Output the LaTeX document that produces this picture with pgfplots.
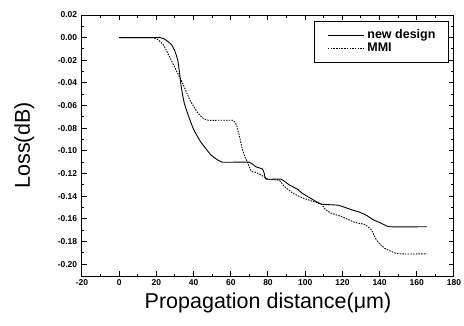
\documentclass[border=0pt]{standalone}
\usepackage{fontspec}
\setmainfont{Liberation Sans}
\usepackage{pgfplots}
\pgfplotsset{compat=1.18}
\begin{document}
\begin{tikzpicture}
\useasboundingbox (-82pt,-49pt) rectangle (382pt,276pt);
\begin{axis}[
  at={(0,0)}, anchor=south west,
  scale only axis,
  width=372pt, height=261pt,
  xmin=-20, xmax=180, ymin=-0.2105, ymax=0.02,
  xtick={-20,0,...,180},
  ytick={-0.20,-0.18,...,0.021},
  minor tick num=1,
  tick align=inside,
  major tick length=5pt, minor tick length=2.5pt,
  line width=1pt,
  tick style={line width=1pt, black},
  /pgf/number format/assume math mode=true,
  yticklabel style={/pgf/number format/fixed, /pgf/number format/fixed zerofill, /pgf/number format/precision=2, font=\bfseries\fontsize{8.5}{9}\selectfont, xshift=-1pt},
  xticklabel style={font=\bfseries\fontsize{8.5}{9}\selectfont},
  scaled y ticks=false,
  xlabel={Propagation distance(μm)},
  ylabel={Loss(dB)},
  xlabel style={font=\fontsize{21.5}{24}\selectfont, at={(axis description cs:0.5,-0.105)}, anchor=center},
  ylabel style={font=\fontsize{21.5}{24}\selectfont, at={(axis description cs:-0.155,0.5)}, anchor=center},
  legend style={at={(0.9865,0.977)}, anchor=north east, font=\bfseries\fontsize{12.5}{13}\selectfont, draw=black, line width=1pt,
    nodes={inner sep=0pt, text height=9pt, text depth=2.5pt},
    row sep=1.5pt, inner xsep=13pt, inner ysep=8pt},
  legend cell align=left,
  legend image code/.code={\draw[#1] (0pt,0pt) -- (36pt,0pt);},
  /tikz/every odd column/.append style={column sep=3pt},
]
\addplot[black, line width=0.9pt, smooth, tension=0.25] coordinates {
(0,0) (22,0) (25,-0.002) (28,-0.006) (30,-0.012) (31.5,-0.020) (32.5,-0.032) (33.5,-0.045) (35,-0.058) (37,-0.068) (40,-0.081) (43.8,-0.092) (49,-0.103) (52,-0.107) (55.7,-0.110) (69.7,-0.110) (73.5,-0.114) (77,-0.116) (78,-0.120) (79,-0.125) (87,-0.125) (91.4,-0.130) (96,-0.134) (98,-0.137) (103,-0.142) (108.6,-0.147) (117.8,-0.148) (124.9,-0.152) (129,-0.154) (133,-0.157) (136.8,-0.161) (141,-0.164) (145.4,-0.167) (165.4,-0.167)
};
\addlegendentry{new design}
\addplot[black, line width=0.9pt, dash pattern=on 1.5pt off 1.2pt, smooth, tension=0.25] coordinates {
(0,0) (18,0) (21,-0.002) (24,-0.007) (28,-0.020) (31,-0.030) (34,-0.040) (38,-0.055) (42,-0.066) (45,-0.071) (48,-0.073) (61,-0.073) (63,-0.077) (64.5,-0.086) (66,-0.097) (67.5,-0.105) (69,-0.110) (71,-0.118) (73.5,-0.119) (77,-0.122) (80,-0.125) (86,-0.126) (88.6,-0.131) (93,-0.137) (97.8,-0.141) (103,-0.144) (108.6,-0.147) (111,-0.152) (114,-0.155) (119.5,-0.158) (126.5,-0.163) (132,-0.165) (135.7,-0.170) (138.4,-0.179) (142.7,-0.186) (148,-0.190) (152,-0.191) (165.4,-0.191)
};
\addlegendentry{MMI}
\end{axis}
\end{tikzpicture}
\end{document}
